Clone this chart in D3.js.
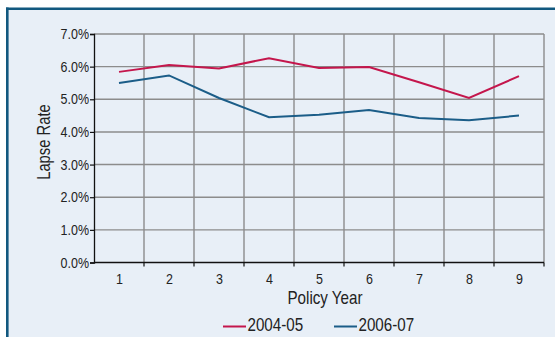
<!DOCTYPE html>
<html>
<head>
<meta charset="utf-8">
<script src="https://cdn.jsdelivr.net/npm/d3@7"></script>
<style>
  html, body { margin: 0; padding: 0; background: #ffffff; }
  svg { display: block; }
  text { font-family: "Liberation Sans", Arial, sans-serif; fill: #222; }
</style>
</head>
<body>
<svg id="chart" width="555" height="337"></svg>
<script>
const years = [1, 2, 3, 4, 5, 6, 7, 8, 9];
const rate2004_05 = [5.84, 6.05, 5.94, 6.26, 5.96, 5.99, 5.52, 5.04, 5.71];
const rate2006_07 = [5.50, 5.73, 5.04, 4.45, 4.53, 4.67, 4.43, 4.36, 4.50];
const yTicks = [0, 1, 2, 3, 4, 5, 6, 7];
const seriesNames = ["2004-05", "2006-07"];
const seriesColors = ["#c4164c", "#1b5d88"];

const svg = d3.select("#chart");
const W = 555, H = 337;
const m = { left: 94, right: 544, top: 34, bottom: 262.5 };

// condense a text element horizontally (mimics a narrow typeface)
function condense(sel, k) {
  sel.each(function () {
    const len = this.getComputedTextLength();
    d3.select(this).attr("textLength", len * k).attr("lengthAdjust", "spacingAndGlyphs");
  });
}

// panel background and border
svg.append("rect").attr("x", 7).attr("y", 8.5).attr("width", W - 7).attr("height", H - 8.5)
  .attr("fill", "#e8eff7");
svg.append("line").attr("x1", 6).attr("x2", W).attr("y1", 8.7).attr("y2", 8.7)
  .attr("stroke", "#11587f").attr("stroke-width", 2.6);
svg.append("line").attr("x1", 7.3).attr("x2", 7.3).attr("y1", 7.4).attr("y2", H)
  .attr("stroke", "#11587f").attr("stroke-width", 2.6);

const x = d3.scaleLinear().domain([0.5, 9.5]).range([m.left, m.right]);
const y = d3.scaleLinear().domain([0, 7]).range([m.bottom, m.top]);

const boundaries = d3.range(1.5, 9.6, 1);

// grid lines
const grid = svg.append("g");
grid.selectAll("line.v").data(boundaries).join("line")
  .attr("x1", d => x(d)).attr("x2", d => x(d))
  .attr("y1", m.top).attr("y2", m.bottom)
  .attr("stroke", "#8c8c8c").attr("stroke-width", 1.4);
grid.selectAll("line.h").data(yTicks.filter(d => d > 0)).join("line")
  .attr("x1", m.left).attr("x2", m.right)
  .attr("y1", d => y(d)).attr("y2", d => y(d))
  .attr("stroke", "#8c8c8c").attr("stroke-width", 1.4);

// y axis
const yAxis = svg.append("g").attr("transform", `translate(${m.left},0)`)
  .call(d3.axisLeft(y).tickValues(yTicks).tickSize(4).tickPadding(1)
    .tickFormat(d => d3.format(".1f")(d) + "%"));
yAxis.select(".domain").attr("stroke", "#111").attr("stroke-width", 1.3);
yAxis.selectAll(".tick line").attr("stroke", "#111").attr("stroke-width", 1.2);
yAxis.selectAll(".tick text").attr("font-size", 14.5)
  .attr("font-family", "'Liberation Sans', sans-serif").attr("fill", "#2a2a2a")
  .call(condense, 0.86);

// x axis: labels at centers, ticks at boundaries
const xAxis = svg.append("g").attr("transform", `translate(0,${m.bottom})`)
  .call(d3.axisBottom(x).tickValues(years).tickSize(0).tickPadding(11)
    .tickFormat(d3.format("d")));
xAxis.select(".domain").remove();
xAxis.selectAll(".tick text").attr("font-size", 14.5)
  .attr("font-family", "'Liberation Sans', sans-serif").attr("fill", "#2a2a2a")
  .call(condense, 0.86);
svg.append("line").attr("x1", m.left).attr("x2", m.right)
  .attr("y1", m.bottom).attr("y2", m.bottom)
  .attr("stroke", "#111").attr("stroke-width", 1.4);
svg.append("g").selectAll("line").data(boundaries).join("line")
  .attr("x1", d => x(d)).attr("x2", d => x(d))
  .attr("y1", m.bottom).attr("y2", m.bottom + 4)
  .attr("stroke", "#111").attr("stroke-width", 1.2);

// lines
const line = d3.line().x((d, i) => x(years[i])).y(d => y(d));
[rate2004_05, rate2006_07].forEach((s, i) => {
  svg.append("path").datum(s).attr("d", line)
    .attr("fill", "none").attr("stroke", seriesColors[i]).attr("stroke-width", 2);
});

// axis titles
svg.append("text").attr("x", 325).attr("y", 303.5).attr("text-anchor", "middle")
  .attr("font-size", 18.5).attr("fill", "#2a2a2a").text("Policy Year").call(condense, 0.82);
svg.append("text").attr("transform", "translate(50,142) rotate(-90)")
  .attr("text-anchor", "middle").attr("font-size", 18.5).attr("fill", "#2a2a2a")
  .text("Lapse Rate").call(condense, 0.8);

// legend
const legendX = [223, 334];
seriesNames.forEach((name, i) => {
  svg.append("line").attr("x1", legendX[i]).attr("x2", legendX[i] + 23)
    .attr("y1", 326.5).attr("y2", 326.5)
    .attr("stroke", seriesColors[i]).attr("stroke-width", 2);
  svg.append("text").attr("x", legendX[i] + 24.5).attr("y", 330.7)
    .attr("font-size", 18.5).attr("fill", "#2a2a2a").text(name).call(condense, 0.82);
});
</script>
</body>
</html>
